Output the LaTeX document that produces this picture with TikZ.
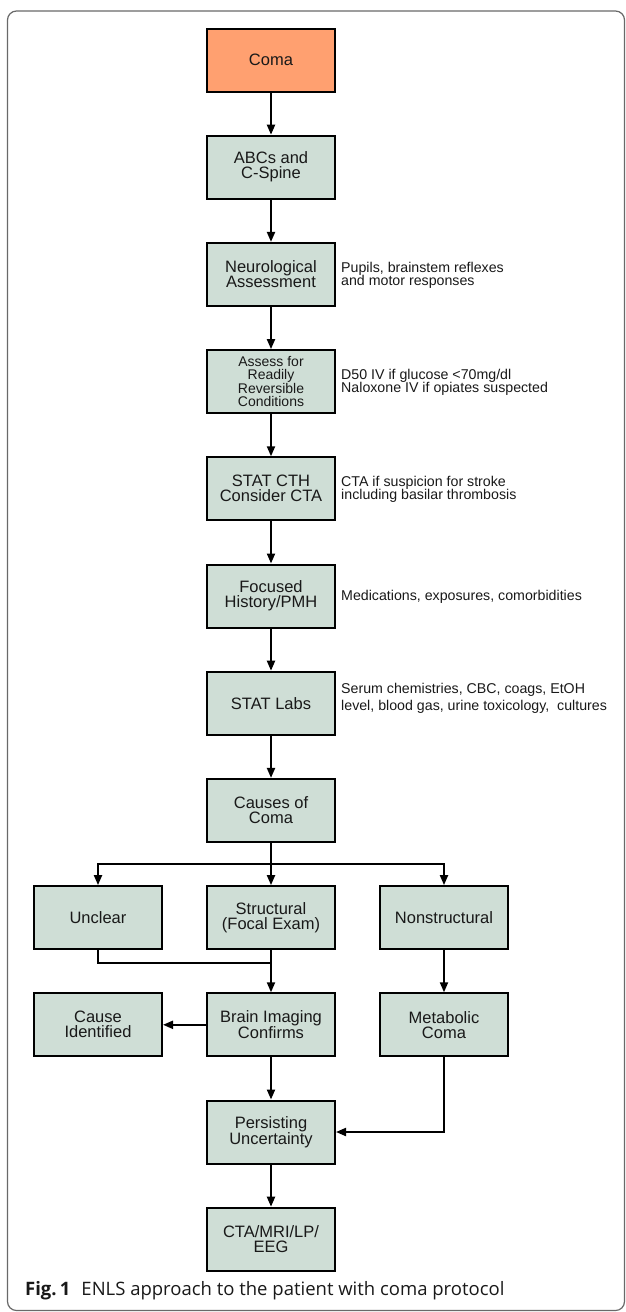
\documentclass[tikz,border=0pt]{standalone}
\usepackage{fontspec}
\setmainfont{Liberation Sans}
\newfontfamily\capfont{Open Sans}
\usetikzlibrary{arrows.meta}
\definecolor{boxgreen}{RGB}{207,222,214}
\definecolor{boxorange}{RGB}{255,160,112}
\definecolor{framegray}{RGB}{105,105,105}
\definecolor{txt}{RGB}{25,25,25}
\begin{document}
\begin{tikzpicture}[x=1pt,y=-1pt,
  flow/.style={draw=black, line width=2pt, fill=boxgreen, minimum width=128pt,
    minimum height=63pt, inner sep=0pt, align=center, text=txt,
    font=\fontsize{16.5}{15}\selectfont},
  startbox/.style={flow, fill=boxorange},
  smallbox/.style={flow, font=\fontsize{14}{13}\selectfont},
  note/.style={anchor=west, align=left, inner sep=0pt, text=txt,
    font=\fontsize{14.2}{13.3}\selectfont},
  arr/.style={line width=2pt, -{Triangle[length=10pt,width=8pt]}},
  ln/.style={line width=2pt}]
\useasboundingbox (0,0) rectangle (626,1312);
\draw[framegray, line width=1.2pt, rounded corners=9pt] (7.5,11) rectangle (624.5,1310.5);

% main column
\node[startbox] (coma) at (271,60) {Coma};
\node[flow] (abc) at (271,167.2) {ABCs and\\C-Spine};
\node[flow] (neuro) at (271,274.4) {Neurological\\Assessment};
\node[smallbox] (assess) at (271,381.6) {Assess for\\Readily\\Reversible\\Conditions};
\node[flow] (cth) at (271,488.8) {STAT CTH\\Consider CTA};
\node[flow] (hist) at (271,596) {Focused\\History/PMH};
\node[flow] (labs) at (271,703.2) {STAT Labs};
\node[flow] (causes) at (271,810.4) {Causes of\\Coma};
\node[flow] (unclear) at (98,917.6) {Unclear};
\node[flow] (struct) at (271,917.6) {Structural\\(Focal Exam)};
\node[flow] (nonstruct) at (444,917.6) {Nonstructural};
\node[flow] (cause) at (98,1024.8) {Cause\\Identified};
\node[flow] (brain) at (271,1024.8) {Brain Imaging\\Confirms};
\node[flow] (metab) at (444,1024.8) {Metabolic\\Coma};
\node[flow] (persist) at (271,1132) {Persisting\\Uncertainty};
\node[flow] (cta) at (271,1239.2) {CTA/MRI/LP/\\EEG};

% side notes
\node[note] (nneuro) at (341,275) {Pupils, brainstem reflexes\\and motor responses};
\node[note] (nassess) at (341,382.5) {D50 IV if glucose <70mg/dl\\Naloxone IV if opiates suspected};
\node[note] (ncth) at (341,489) {CTA if suspicion for stroke\\including basilar thrombosis};
\node[note] (nhist) at (341,597) {Medications, exposures, comorbidities};
\node[note, font=\fontsize{14.2}{16.7}\selectfont] (nlabs) at (341,698) {Serum chemistries, CBC, coags, EtOH\\level, blood gas, urine toxicology,\ \ cultures};

% connectors
\draw[arr] (coma) -- (abc);
\draw[arr] (abc) -- (neuro);
\draw[arr] (neuro) -- (assess);
\draw[arr] (assess) -- (cth);
\draw[arr] (cth) -- (hist);
\draw[arr] (hist) -- (labs);
\draw[arr] (labs) -- (causes);
\coordinate (br) at (271,864);
\draw[arr] (causes) -- (struct);
\draw[arr] (br) -| (unclear);
\draw[arr] (br) -| (nonstruct);
\coordinate (jn) at (271,963);
\draw[ln] (unclear.south) |- (jn);
\draw[arr] (struct) -- (brain);
\draw[arr] (nonstruct) -- (metab);
\draw[arr] (brain) -- (cause);
\draw[arr] (brain) -- (persist);
\draw[arr] (metab.south) |- (persist.east);
\draw[arr] (persist) -- (cta);

% caption
\node[anchor=west, inner sep=0pt, text=txt, font=\capfont\fontsize{18.5}{22}\selectfont] (cap) at (25,1291)
  {\textbf{Fig.\,1}\hspace{0.6em}ENLS approach to the patient with coma protocol};
\end{tikzpicture}
\end{document}
